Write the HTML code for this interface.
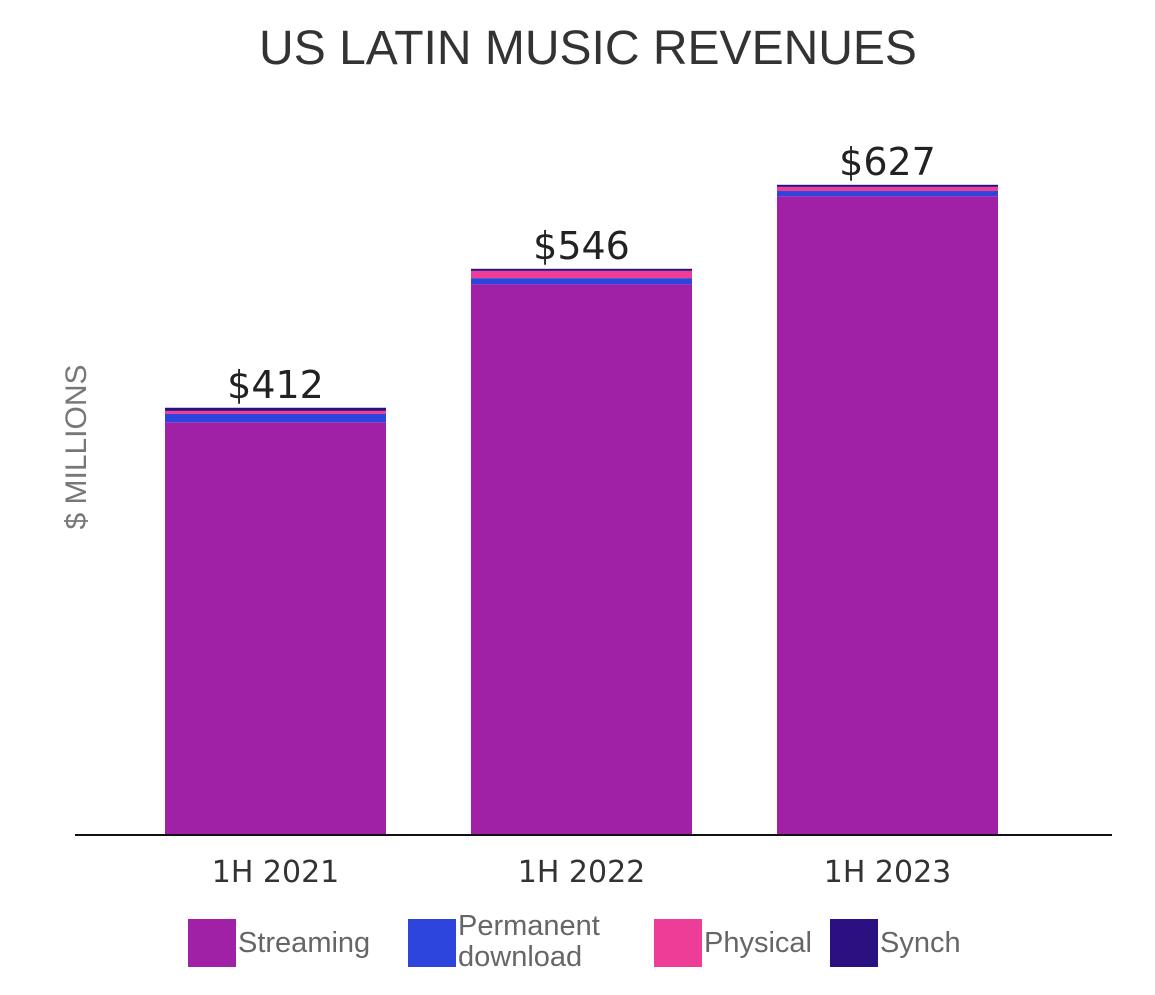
<!DOCTYPE html>
<html><head><meta charset="utf-8"><style>
body{margin:0;background:#fff;font-family:"Liberation Sans",sans-serif;}
svg text{font-family:"DejaVu Sans","Liberation Sans",sans-serif;}
</style></head><body>
<svg id="chart" width="1155" height="990">
<text x="588" y="64" text-anchor="middle" font-size="48" fill="#333" font-family="Liberation Sans" style="font-family:'Liberation Sans',sans-serif">US LATIN MUSIC REVENUES</text>
<text transform="translate(86,447) rotate(-90)" text-anchor="middle" font-size="30" fill="#777" style="font-family:'Liberation Sans',sans-serif">$ MILLIONS</text>
<g id="bars"></g>
<line x1="75" y1="835" x2="1112" y2="835" stroke="#111" stroke-width="2"/>
<g id="legend"></g>
</svg>
<script>
const categories=["1H 2021","1H 2022","1H 2023"];
const streaming=[398,531,616];
const download=[8,6,5];
const physical=[3,7,4];
const synch=[3,2,2];
const totalLabels=["$412","$546","$627"];
const seriesNames=["Streaming","Permanent download","Physical","Synch"];
const colors=["#a020a6","#2d45dc","#ee3d96","#2a1080"];
const NS="http://www.w3.org/2000/svg";
const base=835, scale=1.037, barW=221, x0=165, step=306;
function yPos(v){return base-v*scale;}
function xPos(i){return x0+i*step;}
const g=document.getElementById('bars');
const series=[streaming,download,physical,synch];
categories.forEach((c,i)=>{
  let cum=0;
  series.forEach((s,k)=>{
    const r=document.createElementNS(NS,'rect');
    r.setAttribute('x',xPos(i));
    r.setAttribute('width',barW);
    r.setAttribute('y',yPos(cum+s[i]));
    r.setAttribute('height',s[i]*scale);
    r.setAttribute('fill',colors[k]);
    
    
    g.appendChild(r);
    cum+=s[i];
  });
  const t=document.createElementNS(NS,'text');
  t.setAttribute('x',xPos(i)+barW/2);
  t.setAttribute('y',yPos(cum)-10);
  t.setAttribute('text-anchor','middle');
  t.setAttribute('font-size','38');
  t.setAttribute('fill','#222');
  t.textContent=totalLabels[i];
  
  
  g.appendChild(t);
  const l=document.createElementNS(NS,'text');
  l.setAttribute('x',xPos(i)+barW/2);
  l.setAttribute('y',882);
  l.setAttribute('text-anchor','middle');
  l.setAttribute('font-size','30');
  l.setAttribute('fill','#333');
  l.textContent=c;
  
  
  g.appendChild(l);
});
const lg=document.getElementById('legend');
const lx=[188,408,654,830];
seriesNames.forEach((n,k)=>{
  const r=document.createElementNS(NS,'rect');
  r.setAttribute('x',lx[k]);r.setAttribute('y',919);r.setAttribute('width',48);r.setAttribute('height',48);
  r.setAttribute('fill',colors[k]);
  
  
  lg.appendChild(r);
  const t=document.createElementNS(NS,'text');
  t.setAttribute('x',lx[k]+50);
  t.setAttribute('font-size','29');
  t.setAttribute('fill','#666');
  t.setAttribute('style',"font-family:'Liberation Sans',sans-serif");
  if(n==="Permanent download"){
    t.setAttribute('y',935);
    const a=document.createElementNS(NS,'tspan');a.textContent="Permanent";t.appendChild(a);
    const b=document.createElementNS(NS,'tspan');b.setAttribute('x',lx[k]+50);b.setAttribute('dy','31');b.textContent="download";t.appendChild(b);
  } else {t.setAttribute('y',952);t.textContent=n;}
  
  
  lg.appendChild(t);
});
</script>
</body></html>
